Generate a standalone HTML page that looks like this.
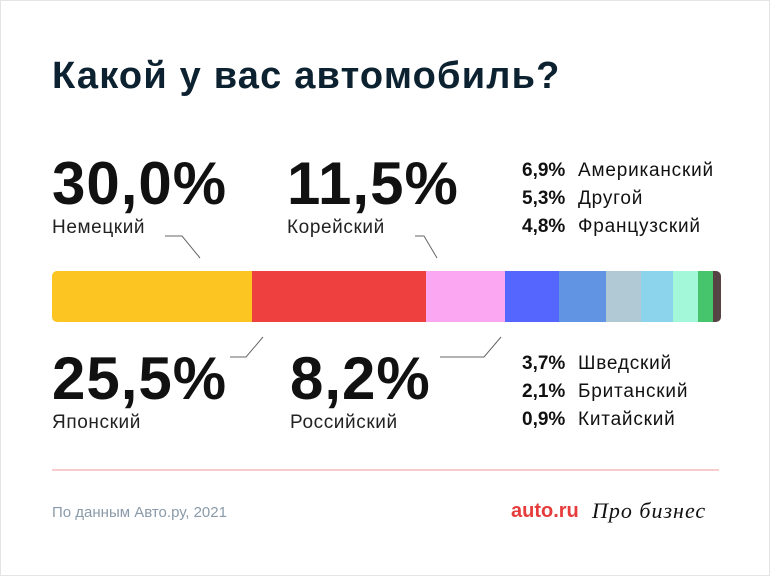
<!DOCTYPE html><html><head><meta charset="utf-8"><style>
body{margin:0;width:770px;height:576px;background:#fff;font-family:"Liberation Sans",sans-serif;color:#111;position:relative;overflow:hidden}
.a{position:absolute;white-space:nowrap}
.big{font-size:60px;font-weight:bold;letter-spacing:1px;line-height:1}
.lab{font-size:19px;color:#222;letter-spacing:0.6px}
.sm{font-size:19px;letter-spacing:0.8px}.sm b{display:inline-block;width:56px;letter-spacing:0}
.seg{position:absolute;top:0;height:51px}
</style></head><body>
<div style="position:absolute;left:0;top:0;width:768px;height:574px;border:1px solid #e4e4e4"></div>
<div class="a" style="left:52px;top:55px;font-size:38px;font-weight:bold;color:#0d2230;letter-spacing:1.2px">Какой у вас автомобиль?</div>
<div class="a big" style="left:52px;top:154px">30,0%</div>
<div class="a lab" style="left:52px;top:217px">Немецкий</div>
<div class="a big" style="left:287px;top:154px">11,5%</div>
<div class="a lab" style="left:287px;top:217px">Корейский</div>
<div class="a sm" style="left:522px;top:160px"><b>6,9%</b>Американский</div>
<div class="a sm" style="left:522px;top:188px"><b>5,3%</b>Другой</div>
<div class="a sm" style="left:522px;top:216px"><b>4,8%</b>Французский</div>
<div style="position:absolute;left:52px;top:271px;width:669px;height:51px;border-radius:5px;overflow:hidden">
<div class="seg" style="left:0;width:200px;background:#fdc521"></div>
<div class="seg" style="left:200px;width:174px;background:#ef4040"></div>
<div class="seg" style="left:374px;width:79px;background:#fca7f2"></div>
<div class="seg" style="left:453px;width:54px;background:#5566fe"></div>
<div class="seg" style="left:507px;width:47px;background:#6294e4"></div>
<div class="seg" style="left:554px;width:35px;background:#b1c9d4"></div>
<div class="seg" style="left:589px;width:32px;background:#8cd3ec"></div>
<div class="seg" style="left:621px;width:25px;background:#a2f8d8"></div>
<div class="seg" style="left:646px;width:15px;background:#46c56c"></div>
<div class="seg" style="left:661px;width:8px;background:#574244"></div>
</div>
<svg class="a" style="left:0;top:0" width="770" height="576"><g stroke="#666" stroke-width="1" fill="none">
<polyline points="165,236 182,236 200,258"/><polyline points="415,236 424,236 437,258"/>
<polyline points="230,357 246,357 263,337"/><polyline points="440,357 484,357 501,337"/></g>
<line x1="52" y1="470" x2="719" y2="470" stroke="#f09a9a" stroke-width="1"/></svg>
<div class="a big" style="left:52px;top:349px">25,5%</div>
<div class="a lab" style="left:52px;top:412px">Японский</div>
<div class="a big" style="left:290px;top:349px">8,2%</div>
<div class="a lab" style="left:290px;top:412px">Российский</div>
<div class="a sm" style="left:522px;top:353px"><b>3,7%</b>Шведский</div>
<div class="a sm" style="left:522px;top:381px"><b>2,1%</b>Британский</div>
<div class="a sm" style="left:522px;top:409px"><b>0,9%</b>Китайский</div>
<div class="a" style="left:52px;top:504px;font-size:15px;color:#8a9aa8">По данным Авто.ру, 2021</div>
<div class="a" style="left:511px;top:500px;font-size:20px;font-weight:bold;color:#e63c3c">auto.ru</div>
<div class="a" style="left:592px;top:498px;font-size:22px;font-style:italic;font-family:'Liberation Serif',serif;letter-spacing:1px">Про бизнес</div>
</body></html>
